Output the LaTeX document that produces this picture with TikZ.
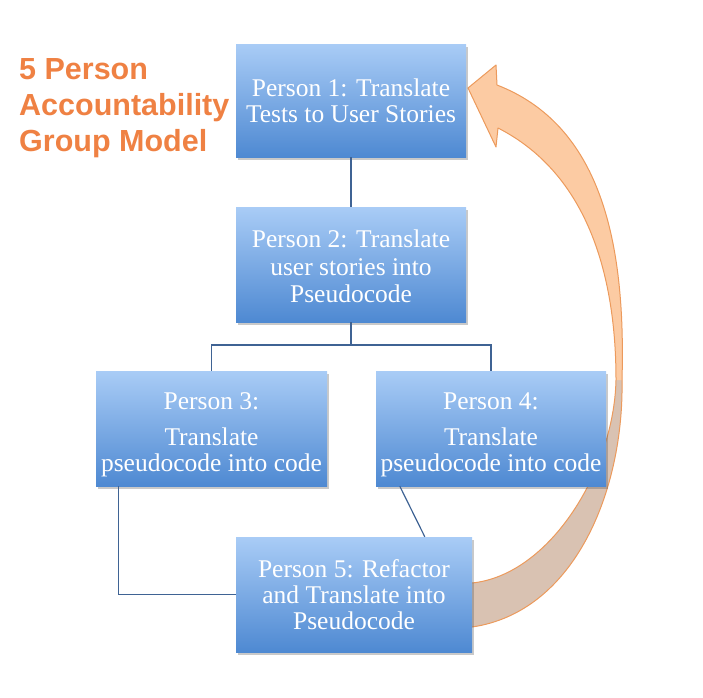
\documentclass[tikz,border=0pt]{standalone}
\usepackage{fontspec}
\setmainfont{Liberation Serif}
\newfontfamily\titlefont{Liberation Sans}
\usetikzlibrary{shadows,calc}
\definecolor{boxtop}{HTML}{A9CCF6}
\definecolor{boxbot}{HTML}{4E89D2}
\definecolor{linec}{HTML}{3F6394}
\definecolor{titlec}{HTML}{EF8143}
\definecolor{arrfront}{HTML}{FCCBA3}
\definecolor{arrback}{HTML}{D9C2B2}
\definecolor{arredge}{HTML}{EC9A5C}
\tikzset{
  pbox/.style={rectangle, inner sep=0pt, top color=boxtop, bottom color=boxbot,
    text=white, align=center, font=\fontsize{25.5}{26}\selectfont,
    drop shadow={shadow xshift=2pt, shadow yshift=-3pt, opacity=0.3, fill=black!70}},
  conn/.style={draw=linec, line width=1.2pt},
}
\begin{document}
\begin{tikzpicture}[x=1pt,y=-1pt]
\useasboundingbox (0,0) rectangle (703,697);
% curved arrow
\fill[arrback] (472,627) .. controls (575,612) and (624,490) .. (622,380)
  -- (616,380) .. controls (614,470) and (550,575) .. (472,583) -- cycle;
\fill[arrfront] (622,380) .. controls (626,240) and (600,125) .. (497,85)
  -- (496,65) -- (468,88) -- (496,147) -- (498,128)
  .. controls (590,175) and (616,280) .. (616,380) -- cycle;
\draw[arredge, line width=1pt, line join=round]
  (472,627) .. controls (575,612) and (624,490) .. (622,380)
  .. controls (626,240) and (600,125) .. (497,85)
  -- (496,65) -- (468,88) -- (496,147) -- (498,128)
  .. controls (590,175) and (616,280) .. (616,380)
  .. controls (614,470) and (550,575) .. (472,583);
% title
\node[anchor=west, inner sep=0pt, align=left, text=titlec,
  font=\titlefont\bfseries\fontsize{30.5}{36}\selectfont] (title) at (19,108)
  {5 Person\\Accountability\\Group Model};
% boxes
\node[pbox, minimum width=230pt, minimum height=113pt] (b1) at (351,100.5)
  {Person 1: Translate\\Tests to User Stories};
\node[pbox, minimum width=230pt, minimum height=115pt] (b2) at (351,264.5)
  {\rule{0pt}{22pt}Person 2: Translate\\[1.5pt]user stories into\\[1.5pt]Pseudocode};
\node[pbox, minimum width=231pt, minimum height=115pt] (b3) at (211.5,428.5)
  {\rule{0pt}{30pt}Person 3:\\[10pt]Translate\\pseudocode into code};
\node[pbox, minimum width=230pt, minimum height=115pt] (b4) at (491,428.5)
  {\rule{0pt}{30pt}Person 4:\\[10pt]Translate\\pseudocode into code};
\node[pbox, minimum width=236pt, minimum height=115pt] (b5) at (354,594.5)
  {Person 5: Refactor\\and Translate into\\Pseudocode};
% connectors
\coordinate (j) at (351,345);
\draw[conn] (b1.south) -- (b2.north);
\draw[conn] (b2.south) -- (j);
\draw[conn] (b3.north) |- (j) -| (b4.north);
\draw[conn] ([xshift=23pt]b3.south west) |- (b5.west);
\draw[conn] ([xshift=24pt]b4.south west) -- ([xshift=189pt]b5.north west);
\end{tikzpicture}
\end{document}
